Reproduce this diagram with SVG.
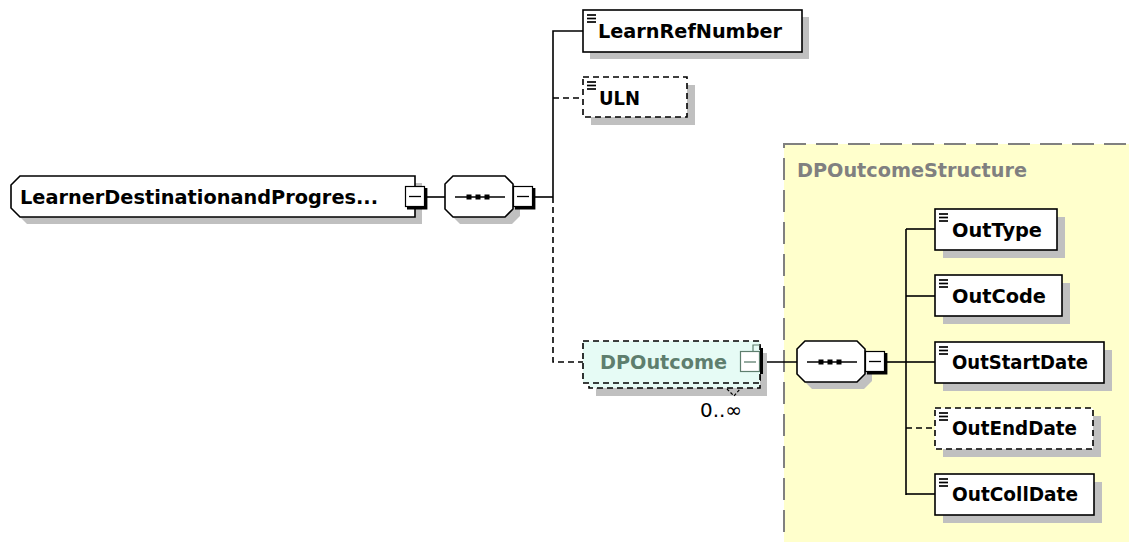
<svg xmlns="http://www.w3.org/2000/svg" width="1129" height="542" viewBox="0 0 1129 542">
<style>
.bg{fill:#ffffff}
.shadow{fill:#c0c0c0}
.box{fill:#ffffff;stroke:#000000;stroke-width:1.6}
.dbox{fill:#ffffff;stroke:#000000;stroke-width:1.6;stroke-dasharray:6 4}
.lbl{font-family:"DejaVu Sans","Liberation Sans",sans-serif;font-weight:bold;font-size:20px;fill:#000000}
.conn{fill:none;stroke:#000000;stroke-width:1.6}
.dconn{fill:none;stroke:#000000;stroke-width:1.6;stroke-dasharray:6 4}
.icon{stroke:#000000;stroke-width:1.7}
</style>
<defs>
<g id="minus">
<rect x="0.5" y="0.5" width="19" height="20" fill="#ffffff" stroke="#000000" stroke-width="1.2"/>
<polyline points="21,2 21,22 2,22" fill="none" stroke="#000000" stroke-width="2.8"/>
<line x1="4" y1="10.5" x2="16" y2="10.5" stroke="#000000" stroke-width="1.3"/>
</g>
<g id="seqicon">
<line x1="10" y1="21" x2="60" y2="21" stroke="#000000" stroke-width="1.5"/>
<rect x="21.5" y="18.5" width="5" height="5" fill="#000000"/>
<rect x="30.5" y="18.5" width="5" height="5" fill="#000000"/>
<rect x="39.5" y="18.5" width="5" height="5" fill="#000000"/>
</g>
<path id="oct" d="M8,0 H60 L68,8 V33 L60,41 H8 L0,33 V8 Z"/>
<g id="elicon">
<line x1="4" y1="5" x2="13" y2="5"/>
<line x1="4" y1="8.5" x2="13" y2="8.5"/>
<line x1="4" y1="12" x2="13" y2="12"/>
</g>
</defs>
<rect class="bg" x="0" y="0" width="1129" height="542"/>

<g id="DPOutcomeStructure">
<rect x="784" y="144" width="360" height="410" fill="#ffffcc" stroke="#808080" stroke-width="2" stroke-dasharray="22 10"/>
<text x="797" y="177" style="font-family:'DejaVu Sans','Liberation Sans',sans-serif;font-weight:bold;font-size:20px;fill:#808080" textLength="230" lengthAdjust="spacingAndGlyphs">DPOutcomeStructure</text>
</g>

<g id="connectors">
<line class="conn" x1="426" y1="197" x2="445" y2="197"/>
<line class="conn" x1="535" y1="197" x2="553" y2="197"/>
<polyline class="conn" points="553,197 553,31 583,31"/>
<line class="dconn" x1="553" y1="98" x2="583" y2="98"/>
<polyline class="dconn" points="553,197 553,362 583,362"/>
<line class="conn" x1="763" y1="362" x2="797" y2="362"/>
<line class="conn" x1="887" y1="362" x2="906" y2="362"/>
<line class="conn" x1="906" y1="229" x2="906" y2="495"/>
<line class="conn" x1="906" y1="229" x2="935" y2="229"/>
<line class="conn" x1="906" y1="296" x2="935" y2="296"/>
<line class="conn" x1="906" y1="362" x2="935" y2="362"/>
<line class="dconn" x1="906" y1="428" x2="935" y2="428"/>
<line class="conn" x1="906" y1="494" x2="935" y2="494"/>
</g>

<g id="root">
<path class="shadow" d="M27,183 H422 V224 H27 L18,215 V192 Z"/>
<path d="M20,176 H415 V217 H20 L11,208 V185 Z" fill="#ffffff" stroke="#000000" stroke-width="1.6"/>
<text class="lbl" x="20" y="204" textLength="358" lengthAdjust="spacingAndGlyphs">LearnerDestinationandProgres...</text>
<use href="#minus" x="405" y="186"/>
</g>

<g id="sequence1">
<use href="#oct" x="452" y="183" class="shadow"/>
<use href="#oct" x="445" y="176" fill="#ffffff" stroke="#000000" stroke-width="1.6"/>
<use href="#seqicon" x="445" y="176"/>
<use href="#minus" x="513" y="186"/>
</g>

<g id="LearnRefNumber">
<rect class="shadow" x="590" y="17" width="219" height="42"/>
<rect class="box" x="583" y="10" width="219" height="42"/>
<use href="#elicon" x="583" y="10" class="icon"/>
<text class="lbl" x="598" y="38" textLength="184" lengthAdjust="spacingAndGlyphs">LearnRefNumber</text>
</g>

<g id="ULN">
<rect class="shadow" x="591" y="85" width="104" height="40"/>
<rect class="dbox" x="583" y="77" width="104" height="40"/>
<use href="#elicon" x="583" y="77" class="icon"/>
<text class="lbl" x="599" y="105" textLength="41" lengthAdjust="spacingAndGlyphs">ULN</text>
</g>

<g id="DPOutcome">
<rect class="shadow" x="596" y="353" width="171" height="43"/>
<rect x="589" y="346" width="171" height="42" fill="#e6fbf5" stroke="#000000" stroke-width="1.6" stroke-dasharray="6 4"/>
<rect x="583" y="341" width="177" height="42" fill="#e6fbf5" stroke="#000000" stroke-width="1.6" stroke-dasharray="6 4"/>
<text x="600" y="369" style="font-family:'DejaVu Sans','Liberation Sans',sans-serif;font-weight:bold;font-size:20px;fill:#5e7e6e" textLength="127" lengthAdjust="spacingAndGlyphs">DPOutcome</text>
<rect x="740.5" y="351.5" width="19" height="20" fill="#ffffff" stroke="#5e7e6e" stroke-width="1.2"/>
<line x1="761.5" y1="348" x2="761.5" y2="374" stroke="#000000" stroke-width="3"/>
<line x1="744" y1="362" x2="756" y2="362" stroke="#5e7e6e" stroke-width="1.3"/>
<polyline points="753,351 753,345 760,345" fill="none" stroke="#5e7e6e" stroke-width="1.2"/>
<polyline points="727,389 734,396 740,389" fill="none" stroke="#000000" stroke-width="1.2" stroke-dasharray="3 2"/>
<text x="700" y="417" style="font-family:'DejaVu Sans','Liberation Sans',sans-serif;font-size:20px;fill:#000000" textLength="42" lengthAdjust="spacingAndGlyphs">0..∞</text>
</g>

<g id="sequence2">
<use href="#oct" x="804" y="348" class="shadow"/>
<use href="#oct" x="797" y="341" fill="#ffffff" stroke="#000000" stroke-width="1.6"/>
<use href="#seqicon" x="797" y="341"/>
<use href="#minus" x="865" y="351"/>
</g>

<g id="OutType">
<rect class="shadow" x="943" y="217" width="122" height="41"/>
<rect class="box" x="935" y="209" width="122" height="41"/>
<use href="#elicon" x="935" y="209" class="icon"/>
<text class="lbl" x="952" y="237" textLength="90" lengthAdjust="spacingAndGlyphs">OutType</text>
</g>

<g id="OutCode">
<rect class="shadow" x="943" y="283" width="127" height="41"/>
<rect class="box" x="935" y="275" width="127" height="41"/>
<use href="#elicon" x="935" y="275" class="icon"/>
<text class="lbl" x="952" y="303" textLength="94" lengthAdjust="spacingAndGlyphs">OutCode</text>
</g>

<g id="OutStartDate">
<rect class="shadow" x="943" y="350" width="169" height="41"/>
<rect class="box" x="935" y="342" width="169" height="41"/>
<use href="#elicon" x="935" y="342" class="icon"/>
<text class="lbl" x="952" y="369" textLength="136" lengthAdjust="spacingAndGlyphs">OutStartDate</text>
</g>

<g id="OutEndDate">
<rect class="shadow" x="943" y="416" width="158" height="41"/>
<rect class="dbox" x="935" y="408" width="158" height="41"/>
<use href="#elicon" x="935" y="408" class="icon"/>
<text class="lbl" x="952" y="435" textLength="125" lengthAdjust="spacingAndGlyphs">OutEndDate</text>
</g>

<g id="OutCollDate">
<rect class="shadow" x="943" y="482" width="159" height="41"/>
<rect class="box" x="935" y="474" width="159" height="41"/>
<use href="#elicon" x="935" y="474" class="icon"/>
<text class="lbl" x="952" y="501" textLength="126" lengthAdjust="spacingAndGlyphs">OutCollDate</text>
</g>
</svg>
